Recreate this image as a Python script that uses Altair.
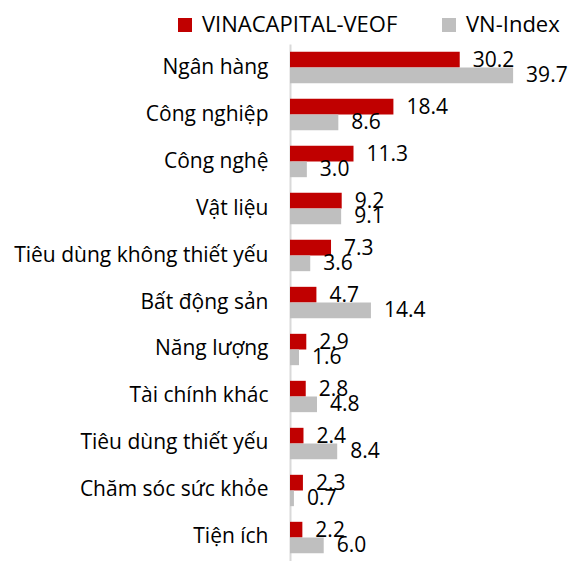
import altair as alt
import pandas as pd

categories = ["Ngân hàng", "Công nghiệp", "Công nghệ", "Vật liệu",
              "Tiêu dùng không thiết yếu", "Bất động sản", "Năng lượng",
              "Tài chính khác", "Tiêu dùng thiết yếu", "Chăm sóc sức khỏe", "Tiện ích"]
veof = [30.2, 18.4, 11.3, 9.2, 7.3, 4.7, 2.9, 2.8, 2.4, 2.3, 2.2]
vnindex = [39.7, 8.6, 3.0, 9.1, 3.6, 14.4, 1.6, 4.8, 8.4, 0.7, 6.0]
series = ["VINACAPITAL-VEOF", "VN-Index"]
colors = ["#C00000", "#BFBFBF"]

rows = []
for c, a, b in zip(categories, veof, vnindex):
    rows.append({"cat": c, "series": series[0], "value": a})
    rows.append({"cat": c, "series": series[1], "value": b})
df = pd.DataFrame(rows)

FONT = "Open Sans"

y = alt.Y("cat:N", sort=categories,
          scale=alt.Scale(paddingInner=0.333, paddingOuter=0.167),
          axis=alt.Axis(title=None, ticks=False, domainColor="#d9d9d9", domainWidth=2,
                        labelFontSize=21, labelFont=FONT, labelColor="#000000",
                        labelPadding=22, labelLimit=300))
yoff = alt.YOffset("series:N", sort=series,
                   scale=alt.Scale(paddingInner=0, paddingOuter=0))
x = alt.X("value:Q", scale=alt.Scale(domain=[0, 50], nice=False, zero=True), axis=None)

bars = alt.Chart(df).mark_bar().encode(
    x=x, y=y, yOffset=yoff,
    color=alt.Color("series:N", sort=series,
                    scale=alt.Scale(domain=series, range=colors),
                    legend=alt.Legend(orient="none", legendX=-116, legendY=-30,
                                      direction="horizontal", title=None,
                                      symbolType="square", symbolSize=196,
                                      symbolStrokeWidth=0,
                                      labelFontSize=22, labelFont=FONT,
                                      labelColor="#000000", labelOffset=6,
                                      labelLimit=400, columnPadding=40))
)

labels = alt.Chart(df).mark_text(align="left", baseline="middle", dx=13, dy=1,
                                 fontSize=21, font=FONT, color="#000000").encode(
    x=x, y=y, yOffset=yoff,
    text=alt.Text("value:Q", format=".1f")
)

chart = alt.layer(bars, labels).properties(
    width=281, height=517,
    autosize=alt.AutoSizeParams(type="none"),
    padding={"left": 282, "top": 36, "right": 0, "bottom": 0}
).configure_view(stroke=None)

chart.save("out.html", embed_options={"renderer": "svg", "actions": False})
